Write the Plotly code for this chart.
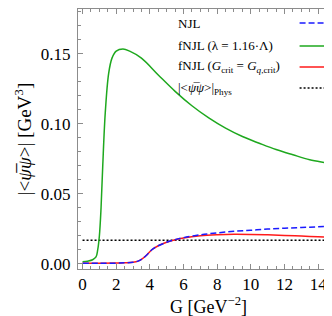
import plotly.graph_objects as go

# Data
G_green = [0, 0.3, 0.6, 0.8, 0.9, 1.0, 1.1, 1.2, 1.35, 1.55, 1.75, 2.0, 2.4, 2.8, 3.5,
           4.5, 5.5, 6.5, 7.5, 8.5, 9.5, 10.5, 11.5, 12.5, 13.5, 14.5, 15]
fnjl_lambda = [0.0015, 0.002, 0.003, 0.005, 0.010, 0.020, 0.040, 0.070, 0.108, 0.136,
               0.147, 0.152, 0.1535, 0.152, 0.147, 0.135, 0.1233, 0.113, 0.1043, 0.097,
               0.091, 0.0862, 0.0817, 0.078, 0.0745, 0.0722, 0.071]

G_njl = [0, 1, 2, 2.5, 3, 3.3, 3.5, 3.8, 4.1, 4.5, 5, 5.5, 6, 7, 8, 9, 10, 11, 12, 13, 14, 15]
njl = [0.0005, 0.0005, 0.0006, 0.0008, 0.0012, 0.0020, 0.0032, 0.0062, 0.0100, 0.0130,
       0.0155, 0.0174, 0.0188, 0.0208, 0.0222, 0.0233, 0.0241, 0.0249, 0.0255, 0.0260,
       0.0265, 0.0270]
fnjl_gcrit = [0.0005, 0.0005, 0.0006, 0.0008, 0.0012, 0.0020, 0.0032, 0.0062, 0.0100, 0.0130,
              0.0155, 0.0173, 0.0186, 0.0202, 0.0209, 0.0212, 0.0211, 0.0208, 0.0204, 0.0199,
              0.0194, 0.0189]

G_phys = [0, 15]
phys = [0.0170, 0.0170]

x_ticks = [0, 2, 4, 6, 8, 10, 12, 14]
y_ticks = [0.00, 0.05, 0.10, 0.15]
y_tick_text = ["0.00", "0.05", "0.10", "0.15"]

BLUE = "#1a1aff"
GREEN = "#1ea81e"
RED = "#ff1a1a"
FONT = "Liberation Serif, Times New Roman, serif"
FRAME = "#8c8c8c"

fig = go.Figure()
fig.add_trace(go.Scatter(x=G_phys, y=phys, mode="lines",
                         line=dict(color="black", width=1.5, dash="2px,2px")))
fig.add_trace(go.Scatter(x=G_green, y=fnjl_lambda, mode="lines", line_shape="spline",
                         line=dict(color=GREEN, width=1.5)))
fig.add_trace(go.Scatter(x=G_njl, y=fnjl_gcrit, mode="lines", line_shape="spline",
                         line=dict(color=RED, width=1.5)))
fig.add_trace(go.Scatter(x=G_njl, y=njl, mode="lines", line_shape="spline",
                         line=dict(color=BLUE, width=1.5, dash="6px,3px")))

# Legend drawn manually (text left, line sample right, as in reference)
legend_rows = [
    ("NJL", dict(color=BLUE, width=1.5, dash="6px,3px")),
    ("fNJL (λ = 1.16·Λ)", dict(color=GREEN, width=1.5)),
    ("fNJL (<i>G</i><sub>crit</sub> = <i>G</i><sub><i>q</i>,crit</sub>)", dict(color=RED, width=1.5)),
    ("|&lt;<i>ψ̅ψ</i>&gt;|<sub>Phys</sub>", dict(color="black", width=1.5, dash="2px,2px")),
]
row_y = [15, 38, 59, 80]
for (label, ls), ry in zip(legend_rows, row_y):
    yp = 1 - (ry - 1) / 260.0
    fig.add_annotation(x=(168 - 70) / 261.5, y=yp, xref="paper", yref="paper",
                       text=label, showarrow=False, xanchor="left", yanchor="middle",
                       font=dict(family=FONT, size=13, color="black"))
    fig.add_shape(type="line", xref="paper", yref="paper",
                  x0=(292 - 70) / 261.5, x1=(321 - 70) / 261.5, y0=yp, y1=yp, line=ls)

axis_common = dict(showline=True, linecolor=FRAME, linewidth=1, mirror="allticks",
                   ticks="inside", tickcolor=FRAME, ticklen=5, tickwidth=1,
                   showgrid=False, zeroline=False,
                   tickfont=dict(family=FONT, size=17, color="black"))

fig.update_xaxes(range=[-0.27, 15.24], tickvals=x_ticks,
                 minor=dict(ticks="inside", dtick=0.5, ticklen=3, tickcolor=FRAME, showgrid=False),
                 title=dict(text="G [GeV<sup>−2</sup>]", font=dict(family=FONT, size=18, color="black"),
                            standoff=2),
                 **axis_common)
fig.update_yaxes(range=[-0.0036, 0.1821], tickvals=y_ticks, ticktext=y_tick_text,
                 ticklabelstandoff=3,
                 minor=dict(ticks="inside", dtick=0.01, ticklen=3, tickcolor=FRAME, showgrid=False),
                 title=dict(text="|&lt;<i>ψ̅ψ</i>&gt;| [GeV<sup>3</sup>]",
                            font=dict(family=FONT, size=19, color="black"), standoff=4),
                 **axis_common)

fig.update_layout(width=332, height=316, showlegend=False,
                  margin=dict(l=70, r=1, t=1, b=55),
                  plot_bgcolor="white", paper_bgcolor="white",
                  font=dict(family=FONT))
fig.write_html("out.html")
